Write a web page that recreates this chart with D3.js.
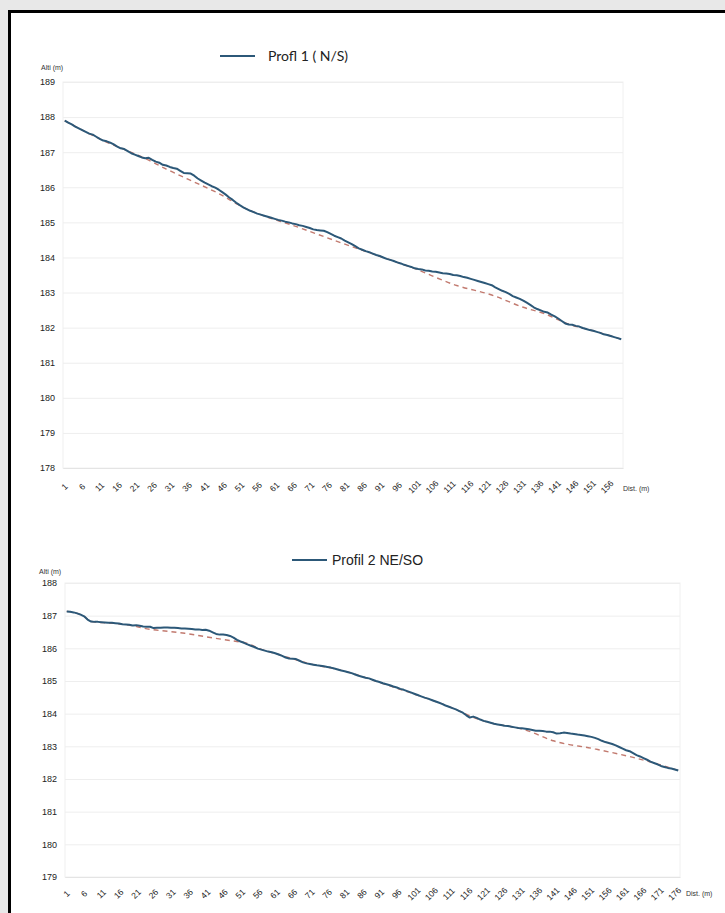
<!DOCTYPE html>
<html>
<head>
<meta charset="utf-8">
<script src="https://cdn.jsdelivr.net/npm/d3@7"></script>
<style>
  body { margin: 0; background: #fff; }
  svg { display: block; font-family: "Liberation Sans", Arial, sans-serif; }
</style>
</head>
<body>
<svg id="chart" width="725" height="913"></svg>
<script>
// altitude every metre, profile 1 (N/S)
var profil1 = [
  187.90, 187.84, 187.79, 187.73, 187.68, 187.63, 187.58, 187.53, 187.50, 187.44,
  187.38, 187.33, 187.31, 187.27, 187.22, 187.16, 187.11, 187.09, 187.03, 186.97,
  186.93, 186.89, 186.85, 186.83, 186.84, 186.78, 186.73, 186.70, 186.64, 186.62,
  186.58, 186.55, 186.53, 186.47, 186.41, 186.40, 186.39, 186.33, 186.25, 186.19,
  186.13, 186.08, 186.03, 185.99, 185.93, 185.86, 185.79, 185.71, 185.64, 185.56,
  185.49, 185.43, 185.38, 185.33, 185.29, 185.25, 185.22, 185.19, 185.16, 185.13,
  185.10, 185.07, 185.05, 185.02, 185.00, 184.97, 184.95, 184.92, 184.90, 184.87,
  184.84, 184.80, 184.78, 184.77, 184.76, 184.72, 184.67, 184.62, 184.58, 184.54,
  184.48, 184.43, 184.38, 184.32, 184.26, 184.22, 184.18, 184.15, 184.11, 184.07,
  184.04, 184.00, 183.96, 183.93, 183.90, 183.86, 183.83, 183.79, 183.76, 183.73,
  183.69, 183.67, 183.66, 183.63, 183.62, 183.60, 183.59, 183.57, 183.55, 183.54,
  183.53, 183.50, 183.49, 183.47, 183.44, 183.42, 183.39, 183.36, 183.33, 183.30,
  183.27, 183.24, 183.21, 183.15, 183.10, 183.05, 183.01, 182.96, 182.90, 182.86,
  182.82, 182.77, 182.71, 182.65, 182.58, 182.53, 182.49, 182.45, 182.43, 182.37,
  182.32, 182.26, 182.19, 182.12, 182.09, 182.08, 182.05, 182.03, 181.99, 181.96,
  181.93, 181.91, 181.88, 181.85, 181.81, 181.79, 181.76, 181.73, 181.70, 181.67
];
// dashed trend, read at a few distances
var trend1Dist = [1, 6, 12, 18, 24, 30, 36, 45, 52, 58, 66, 76, 85, 92, 100, 113, 123, 132, 138, 145, 152, 160];
var trend1Alt = [187.90, 187.63, 187.33, 187.08, 186.82, 186.52, 186.24, 185.82, 185.43, 185.18, 184.92, 184.56, 184.24, 184.00, 183.72, 183.20, 182.93, 182.58, 182.40, 182.10, 181.91, 181.67];

// profile 2 (NE/SO)
var profil2 = [
  187.13, 187.12, 187.10, 187.07, 187.03, 186.98, 186.88, 186.82, 186.81, 186.81,
  186.80, 186.79, 186.78, 186.78, 186.77, 186.76, 186.74, 186.73, 186.72, 186.70,
  186.71, 186.69, 186.67, 186.66, 186.66, 186.62, 186.63, 186.63, 186.64, 186.64,
  186.63, 186.63, 186.62, 186.61, 186.61, 186.60, 186.59, 186.58, 186.58, 186.56,
  186.57, 186.54, 186.49, 186.44, 186.42, 186.42, 186.41, 186.38, 186.33, 186.26,
  186.21, 186.17, 186.12, 186.08, 186.04, 185.99, 185.96, 185.93, 185.90, 185.88,
  185.85, 185.81, 185.77, 185.72, 185.69, 185.68, 185.67, 185.62, 185.57, 185.54,
  185.52, 185.50, 185.48, 185.47, 185.45, 185.43, 185.41, 185.38, 185.35, 185.32,
  185.30, 185.27, 185.24, 185.20, 185.16, 185.13, 185.10, 185.08, 185.04, 185.00,
  184.97, 184.93, 184.90, 184.87, 184.83, 184.80, 184.76, 184.73, 184.69, 184.65,
  184.61, 184.57, 184.53, 184.49, 184.46, 184.42, 184.38, 184.34, 184.30, 184.25,
  184.21, 184.17, 184.13, 184.08, 184.03, 183.95, 183.88, 183.91, 183.87, 183.82,
  183.78, 183.75, 183.72, 183.69, 183.67, 183.65, 183.63, 183.62, 183.60, 183.58,
  183.56, 183.55, 183.54, 183.52, 183.50, 183.48, 183.48, 183.47, 183.45, 183.45,
  183.43, 183.39, 183.40, 183.42, 183.41, 183.39, 183.38, 183.36, 183.35, 183.33,
  183.31, 183.29, 183.26, 183.22, 183.17, 183.13, 183.10, 183.07, 183.03, 182.98,
  182.93, 182.88, 182.85, 182.79, 182.73, 182.69, 182.64, 182.59, 182.53, 182.49,
  182.45, 182.40, 182.37, 182.34, 182.32, 182.29, 182.26
];
var trend2Dist = [1, 4, 6, 8, 14, 20, 23, 35, 43, 50, 52, 57, 62, 66, 72, 78, 84, 90, 101, 113, 118, 124, 129, 133, 141, 153, 164, 170, 177];
var trend2Alt = [187.13, 187.07, 186.98, 186.82, 186.77, 186.69, 186.62, 186.46, 186.32, 186.21, 186.18, 185.97, 185.81, 185.68, 185.50, 185.38, 185.21, 184.99, 184.60, 184.13, 183.89, 183.69, 183.60, 183.50, 183.17, 182.92, 182.66, 182.49, 182.26];

var yTicks1 = [178, 179, 180, 181, 182, 183, 184, 185, 186, 187, 188, 189],
    yTicks2 = [179, 180, 181, 182, 183, 184, 185, 186, 187, 188];

var lineColor = "#2c5878",
    trendColor = "#c27a6f";

var svg = d3.select("#chart");

// scanned page frame
svg.append("rect").attr("width", 725).attr("height", 913).attr("fill", "#e8e8e8");
svg.append("rect")
    .attr("x", 9.5).attr("y", 11.5)
    .attr("width", 740).attr("height", 920)
    .attr("fill", "#fff")
    .attr("stroke", "#000")
    .attr("stroke-width", 3);

function drawProfile(o) {
  var cats = d3.range(1, o.values.length + 1),
      x = d3.scaleBand().domain(cats).range([o.left, o.right]),
      y = d3.scaleLinear().domain(o.yDomain).range([o.bottom, o.top]),
      cx = function(c) { return x(c) + x.bandwidth() / 2; },
      g = svg.append("g");

  // plot area outline
  g.append("rect")
      .attr("x", o.left).attr("y", o.top)
      .attr("width", o.right - o.left).attr("height", o.bottom - o.top)
      .attr("fill", "none")
      .attr("stroke", "#f0f0f0");

  // gridlines and altitude labels
  var yAxis = g.append("g")
      .attr("transform", "translate(" + o.left + ",0)")
      .call(d3.axisLeft(y).tickValues(o.yTicks).tickSize(-(o.right - o.left)).tickPadding(8).tickFormat(d3.format("d")));
  yAxis.select(".domain").remove();
  yAxis.selectAll("line").attr("stroke", "#eeeeee");
  yAxis.selectAll("text")
      .attr("fill", "#222")
      .style("font-size", "9px");

  // distance labels, one every 5 m
  var xAxis = g.append("g")
      .attr("transform", "translate(0," + o.bottom + ")")
      .call(d3.axisBottom(x).tickValues(cats.filter(function(c) { return (c - 1) % 5 === 0; })).tickSize(0));
  xAxis.select(".domain").attr("stroke", "#e4e4e4");
  xAxis.selectAll("text")
      .attr("y", 0)
      .attr("dy", ".32em")
      .attr("text-anchor", "middle")
      .attr("transform", "translate(0," + o.labelOff + ") rotate(-45)")
      .attr("fill", "#222")
      .style("font-size", "8.5px");

  // trend under the profile
  g.append("path")
      .datum(o.trendDist.map(function(d, i) { return [d, o.trendAlt[i]]; }))
      .attr("fill", "none")
      .attr("stroke", trendColor)
      .attr("stroke-width", 1.4)
      .attr("stroke-dasharray", "5,4")
      .attr("d", d3.line().curve(d3.curveMonotoneX)
          .x(function(d) { return cx(d[0]); })
          .y(function(d) { return y(d[1]); }));

  g.append("path")
      .datum(o.values)
      .attr("fill", "none")
      .attr("stroke", lineColor)
      .attr("stroke-width", 2)
      .attr("stroke-linejoin", "round")
      .attr("d", d3.line()
          .x(function(d, i) { return cx(i + 1); })
          .y(function(d) { return y(d); }));

  // axis titles
  g.append("text")
      .attr("x", o.altX).attr("y", o.altY)
      .attr("fill", "#333")
      .style("font-size", "7px")
      .text("Alti (m)");
  g.append("text")
      .attr("x", o.distX).attr("y", o.distY)
      .attr("fill", "#333")
      .style("font-size", "7px")
      .text("Dist. (m)");

  // legend
  g.append("line")
      .attr("x1", o.legX).attr("x2", o.legX + 35)
      .attr("y1", o.legY).attr("y2", o.legY)
      .attr("stroke", lineColor)
      .attr("stroke-width", 2);
  g.append("text")
      .attr("x", o.legTextX).attr("y", o.legY + 5)
      .attr("fill", "#222")
      .style("font-family", o.legFont)
      .style("font-size", o.legSize)
      .text(o.name);
}

drawProfile({
  name: "Profl 1 ( N/S)", values: profil1, trendDist: trend1Dist, trendAlt: trend1Alt,
  yDomain: [178, 189], yTicks: yTicks1,
  left: 63, right: 623, top: 82, bottom: 468, labelOff: 19,
  altX: 41, altY: 70, distX: 623, distY: 491,
  legX: 220, legY: 56, legTextX: 268, legFont: "Lato, sans-serif", legSize: "14px"
});

drawProfile({
  name: "Profil 2 NE/SO", values: profil2, trendDist: trend2Dist, trendAlt: trend2Alt,
  yDomain: [179, 188], yTicks: yTicks2,
  left: 65, right: 680, top: 583, bottom: 877, labelOff: 17,
  altX: 39, altY: 574, distX: 686, distY: 896,
  legX: 292, legY: 560, legTextX: 332, legFont: "Liberation Sans, Arial, sans-serif", legSize: "14px"
});
</script>
</body>
</html>
